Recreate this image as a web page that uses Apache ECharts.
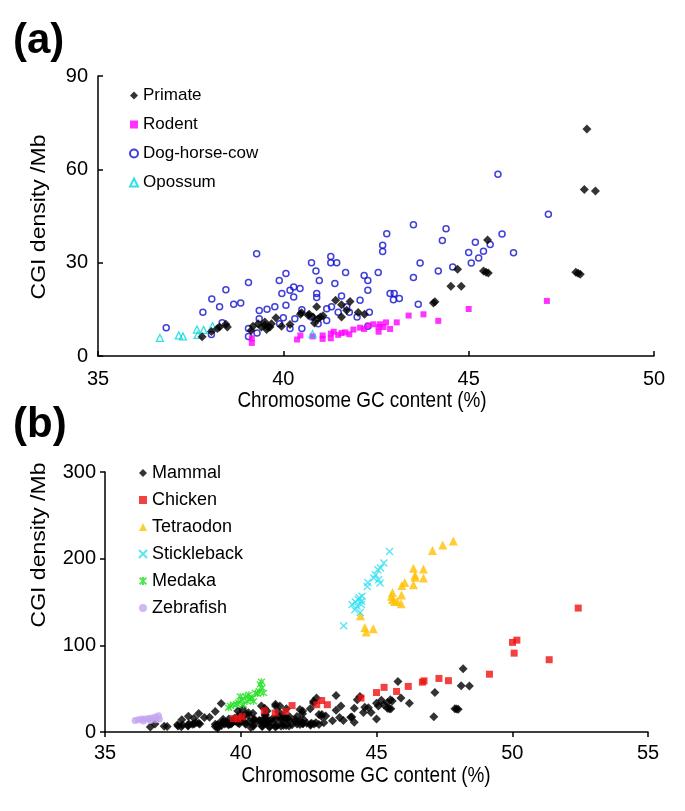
<!DOCTYPE html>
<html><head><meta charset="utf-8">
<script src="https://cdn.jsdelivr.net/npm/echarts@6/dist/echarts.min.js"></script>
<style>html,body{margin:0;padding:0;background:#fff}#c{width:685px;height:811px}</style>
</head><body><div id="c"></div>
<script>
// ---------- Panel (a) data: [GC content %, CGI density /Mb] ----------
const primate = [[37.81,6.2],[38.06,7.9],[38.22,8.8],[38.28,9.3],[38.45,10.2],[38.49,9.3],
[39.13,8.2],[39.18,9.6],[39.32,10.4],[39.41,9.3],[39.5,9.9],[39.5,10.9],[39.55,8.5],[39.59,9.3],[39.64,9.3],[39.68,10.4],[39.8,12.3],[39.95,9.6],[40.18,10.1],[40.46,13.4],[40.49,13.9],[40.67,13.1],[40.7,13.4],[40.8,12.5],[40.84,10.6],[40.9,15.8],[40.94,12.0],[41.0,12.5],[41.07,12.9],[41.41,17.9],[41.57,16.5],[41.57,12.5],[41.71,14.7],[41.8,17.5],[42.02,14.0],[42.19,13.4],
[44.05,17.0],[44.09,17.4],[44.52,22.4],[44.8,22.4],[44.7,27.9],[45.51,37.3],[45.4,27.3],[45.47,26.9],[45.53,26.7],[47.89,26.9],[47.95,26.6],[48.01,26.3],[48.19,73.0],[48.12,53.5],[48.42,53.0]];
const rodent = [[39.15,5.7],[39.15,4.2],[40.37,5.3],[40.46,6.6],[40.79,6.3],[41.06,6.6],[41.06,5.5],[41.28,5.7],[41.28,7.2],[41.36,7.8],[41.48,6.8],[41.57,7.4],[41.67,7.6],[41.78,7.0],[41.89,8.5],[42.07,9.1],[42.18,8.7],[42.3,9.8],[42.43,10.2],[42.57,9.3],[42.57,7.8],[42.61,10.2],[42.7,9.3],[42.77,10.8],[42.88,8.7],[43.06,10.8],[43.38,13.0],[43.78,13.4],[44.18,11.3],[45.0,15.1],[47.11,17.7]];
const dogHorseCow = [[36.84,9.1],[37.83,14.1],[38.07,18.3],[38.28,15.8],[38.45,21.3],[38.35,10.7],[38.06,6.9],[38.66,16.6],[38.85,17.0],[39.06,23.6],[39.28,32.9],[39.06,8.8],[39.06,6.3],[39.29,7.4],[39.35,14.6],[39.35,12.0],[39.56,15.0],[39.77,15.8],[39.89,24.3],[39.96,20.1],[40.07,26.5],[40.07,16.3],[40.0,12.3],[39.9,10.4],[40.18,21.1],[40.28,22.2],[40.28,19.0],[40.45,21.7],[40.5,14.9],[40.5,8.8],[40.31,12.0],[40.18,8.8],[40.76,30.0],[40.88,27.3],[40.9,20.1],[40.9,18.8],[40.97,24.3],[40.76,12.5],[40.94,10.4],[41.17,15.2],[41.28,32.0],[41.28,30.0],[41.44,30.0],[41.39,23.3],[41.17,11.4],[41.3,15.8],[41.57,19.3],[41.68,26.8],[41.48,14.1],[41.71,15.8],[41.78,14.1],[42.07,17.9],[42.18,25.9],[42.28,24.3],[42.28,21.1],[42.32,14.1],[41.99,12.5],[42.28,9.6],[42.56,26.8],[42.68,35.6],[42.68,33.6],
[43.51,42.2],[42.79,39.3],[43.69,29.9],[43.51,25.2],[42.88,20.1],[42.99,20.1],[42.97,18.1],[43.13,18.5],[43.64,16.6],[44.18,27.3],[44.29,37.1],[44.39,40.9],[44.57,28.6],[45.0,33.3],[45.18,36.6],[45.07,29.9],[45.27,31.5],[45.79,58.4],[47.15,45.6],[45.9,39.2],[46.21,33.2],[45.58,35.8],[45.4,33.7]];
const opossum = [[36.67,5.8],[37.18,6.6],[37.29,6.3],[37.67,8.5],[37.69,6.8],[37.85,8.4],[38.09,9.6],[40.79,7.0]];

// ---------- Panel (b) data ----------
const chicken = [[39.73,15.5],[39.9,15.0],[40.05,17.5],[40.87,24.5],[41.27,22.0],[41.66,23.8],[41.89,30.5],[42.8,31.5],[42.98,36.3],[43.19,31.5],[44.43,39.2],[45.0,45.5],[45.28,51.5],[45.74,46.8],[46.17,52.6],[46.69,57.5],[46.75,59.0],[47.3,61.8],[47.65,59.2],[49.16,66.7],[50.01,103.4],[50.17,106.0],[50.07,91.0],[51.36,83.4],[52.43,143.0]];
const tetraodon = [[44.41,134],[44.57,120.5],[44.62,115.5],[44.88,119],[45.55,156.5],[45.59,161],[45.59,153],[45.66,150.5],[45.76,151],[45.91,148],[45.92,158],[45.93,169],[46.04,172.5],[46.36,170],[46.36,189],[46.42,181],[46.42,178.5],[46.73,188],[46.73,177.7],[47.06,209.5],[47.44,215.8],[47.83,220.4]];
const stickleback = [[43.79,122.6],[44.1,147],[44.2,141],[44.22,150],[44.29,145],[44.33,153],[44.37,155],[44.4,138],[44.45,151],[44.47,156.5],[44.44,147],[44.66,168],[44.68,172.5],[44.9,177.7],[44.96,181.5],[45.05,187.3],[45.08,175.7],[45.13,171.9],[45.15,189.2],[45.27,195],[45.48,208.4]];
const medaka = [[39.55,28],[39.62,30],[39.73,31.5],[39.86,32],[39.92,34],[39.98,41],[40.04,37.3],[40.1,31.5],[40.17,41],[40.23,35.3],[40.3,43],[40.35,38],[40.41,39.2],[40.47,35.3],[40.54,45],[40.62,44],[40.68,47],[40.72,55],[40.76,58],[40.78,50.8],[40.84,45]];
const zebrafish = [[36.11,13.4],[36.23,14.2],[36.35,15.0],[36.48,15.0],[36.6,15.7],[36.72,16.2],[36.85,17.3],[36.97,18.8],[37.0,15.0],[36.41,12.7],[36.66,13.4],[36.88,14.2]];
// Mammal in (b) = all mammal chromosomes of panel (a)
const mammal = primate.concat(rodent, dogHorseCow, opossum);

const xTicksA = [35, 50, 5], yTicksA = [0, 90, 30];
const xTicksB = [35, 55, 5], yTicksB = [0, 300, 100];

const FONT = 'Liberation Sans, Arial, Helvetica, sans-serif';
const chart = echarts.init(document.getElementById('c'), null, {renderer: 'canvas'});

function axisCommon(inside, margin) {
  return {
    axisLine: {show: true, onZero: false, lineStyle: {color: '#000', width: 1.5}},
    axisTick: {show: true, inside: inside, length: 5, lineStyle: {color: '#000', width: 1.5}},
    axisLabel: {color: '#000', fontSize: 20, fontFamily: FONT, margin: margin},
    splitLine: {show: false}
  };
}
const xPath = 'path://M0,0L10,10M10,0L0,10';
const starPath = 'path://M0,0L10,10M10,0L0,10M5,-1L5,11';

const option = {
  animation: false,
  backgroundColor: '#fff',
  textStyle: {fontFamily: FONT},
  grid: [
    {left: 98, top: 76, width: 556, height: 280},
    {left: 105, top: 472, width: 543, height: 260}
  ],
  xAxis: [
    Object.assign({gridIndex: 0, type: 'value', min: xTicksA[0], max: xTicksA[1], interval: xTicksA[2]}, axisCommon(true, 13)),
    Object.assign({gridIndex: 1, type: 'value', min: xTicksB[0], max: xTicksB[1], interval: xTicksB[2]}, axisCommon(false, 11))
  ],
  yAxis: [
    Object.assign({gridIndex: 0, type: 'value', min: yTicksA[0], max: yTicksA[1], interval: yTicksA[2]}, axisCommon(true, 10)),
    Object.assign({gridIndex: 1, type: 'value', min: yTicksB[0], max: yTicksB[1], interval: yTicksB[2]}, axisCommon(false, 9))
  ],
  legend: [
    {
      data: ['Primate', 'Rodent', 'Dog-horse-cow', 'Opossum'],
      orient: 'vertical', left: 124, top: 82, itemWidth: 8, itemHeight: 8, itemGap: 12,
      textStyle: {fontSize: 17, color: '#000', fontFamily: FONT, lineHeight: 16}, selectedMode: false
    },
    {
      data: ['Mammal', 'Chicken', 'Tetraodon', 'Stickleback', 'Medaka', 'Zebrafish'],
      orient: 'vertical', left: 133, top: 459, itemWidth: 8, itemHeight: 8, itemGap: 9,
      textStyle: {fontSize: 18, color: '#000', fontFamily: FONT, lineHeight: 17}, selectedMode: false
    }
  ],
  series: [
    {name: 'Dog-horse-cow', type: 'scatter', xAxisIndex: 0, yAxisIndex: 0, data: dogHorseCow, symbol: 'circle', symbolSize: 6,
     itemStyle: {color: 'rgba(255,255,255,0)', borderColor: '#1010d0', borderWidth: 1.5}},
    {name: 'Rodent', type: 'scatter', xAxisIndex: 0, yAxisIndex: 0, data: rodent, symbol: 'rect', symbolSize: 6,
     itemStyle: {color: '#ff00ff'}},
    {name: 'Opossum', type: 'scatter', xAxisIndex: 0, yAxisIndex: 0, data: opossum, symbol: 'triangle', symbolSize: 7,
     itemStyle: {color: 'rgba(255,255,255,0)', borderColor: '#00d8e0', borderWidth: 1.3}},
    {name: 'Primate', type: 'scatter', xAxisIndex: 0, yAxisIndex: 0, data: primate, symbol: 'diamond', symbolSize: 9,
     itemStyle: {color: '#000'}},

    {name: 'Mammal', type: 'scatter', xAxisIndex: 1, yAxisIndex: 1, data: mammal, symbol: 'diamond', symbolSize: 9,
     itemStyle: {color: '#000'}},
    {name: 'Chicken', type: 'scatter', xAxisIndex: 1, yAxisIndex: 1, data: chicken, symbol: 'rect', symbolSize: 7,
     itemStyle: {color: '#ee1111'}},
    {name: 'Tetraodon', type: 'scatter', xAxisIndex: 1, yAxisIndex: 1, data: tetraodon, symbol: 'triangle', symbolSize: 9,
     itemStyle: {color: '#ffc000'}},
    {name: 'Stickleback', type: 'scatter', xAxisIndex: 1, yAxisIndex: 1, data: stickleback, symbol: xPath, symbolSize: 7,
     itemStyle: {color: 'rgba(255,255,255,0)', borderColor: '#30e0f0', borderWidth: 1.4}},
    {name: 'Medaka', type: 'scatter', xAxisIndex: 1, yAxisIndex: 1, data: medaka, symbol: starPath, symbolSize: 7,
     itemStyle: {color: 'rgba(255,255,255,0)', borderColor: '#20e020', borderWidth: 1.4}},
    {name: 'Zebrafish', type: 'scatter', xAxisIndex: 1, yAxisIndex: 1, data: zebrafish, symbol: 'circle', symbolSize: 7,
     itemStyle: {color: '#c4a4f0'}}
  ],
  graphic: [
    {type: 'text', left: 13, top: 20, style: {text: '(a)', font: 'bold 42px ' + FONT, fill: '#000'}},
    {type: 'text', left: 13, top: 404, style: {text: '(b)', font: 'bold 42px ' + FONT, fill: '#000'}},
    {type: 'text', x: 362, y: 401, scaleX: 0.86, style: {text: 'Chromosome GC content (%)', font: '22px ' + FONT, fill: '#000', align: 'center', verticalAlign: 'middle'}},
    {type: 'text', x: 366, y: 776, scaleX: 0.86, style: {text: 'Chromosome GC content (%)', font: '22px ' + FONT, fill: '#000', align: 'center', verticalAlign: 'middle'}},
    {type: 'text', x: 40, y: 217, rotation: Math.PI / 2, scaleY: 0.86, style: {text: 'CGI density /Mb', font: '23px ' + FONT, fill: '#000', align: 'center', verticalAlign: 'middle'}},
    {type: 'text', x: 40, y: 545, rotation: Math.PI / 2, scaleY: 0.86, style: {text: 'CGI density /Mb', font: '23px ' + FONT, fill: '#000', align: 'center', verticalAlign: 'middle'}}
  ]
};
chart.setOption(option);
</script></body></html>
